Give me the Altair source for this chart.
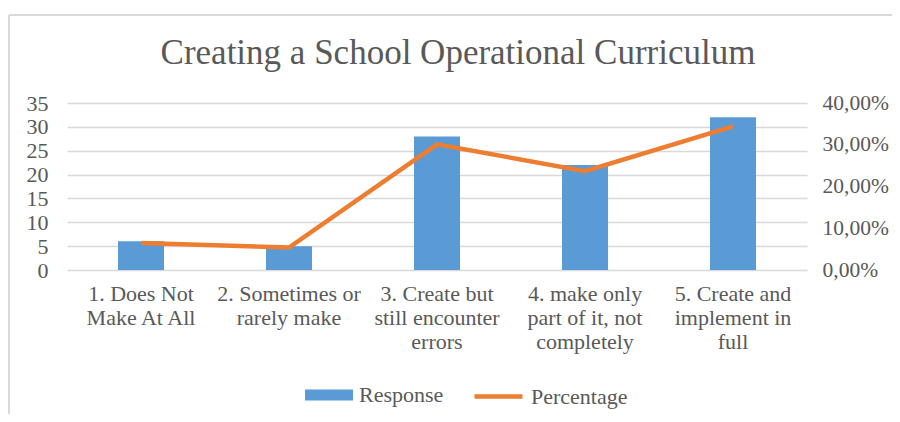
import altair as alt
import pandas as pd

categories = [
    "1. Does Not\nMake At All",
    "2. Sometimes or\nrarely make",
    "3. Create but\nstill encounter\nerrors",
    "4. make only\npart of it, not\ncompletely",
    "5. Create and\nimplement in\nfull",
]
responses = [6, 5, 28, 22, 32]
percentages = [0.0645, 0.0538, 0.3011, 0.2366, 0.3441]

df = pd.DataFrame({"category": categories, "response": responses, "pct": percentages})

FONT = "Liberation Serif"
TEXT = "#595959"
GRID = "#D9D9D9"
FS = 22

x_enc = alt.X(
    "category:N",
    sort=categories,
    scale=alt.Scale(paddingInner=0.689, paddingOuter=0.3445),
    axis=alt.Axis(
        title=None, labelAngle=0, domain=False, ticks=False, tickSize=0,
        labelExpr="split(datum.label, '\\n')", labelLineHeight=24,
        labelPadding=13, labelLimit=0, grid=False,
        labelFont=FONT, labelFontSize=FS, labelColor=TEXT,
    ),
)

bars = alt.Chart(df).transform_calculate(series="'Response'").mark_bar(color="#5B9BD5").encode(
    x=x_enc,
    y=alt.Y(
        "response:Q",
        scale=alt.Scale(domain=[0, 35], nice=False),
        axis=alt.Axis(title=None, values=[0, 5, 10, 15, 20, 25, 30, 35], domain=False,
                      ticks=False, tickSize=0, labelPadding=19, grid=True,
                      gridColor=GRID, gridWidth=1.5,
                      labelFont=FONT, labelFontSize=FS, labelColor=TEXT),
    ),
    color=alt.Color(
        "series:N",
        scale=alt.Scale(domain=["Response"], range=["#5B9BD5"]),
        legend=alt.Legend(
            title=None, orient="none", legendX=238, legendY=268,
            symbolType="M-1,-0.23L1,-0.23L1,0.23L-1,0.23Z", symbolSize=2304,
            symbolStrokeWidth=0, symbolOpacity=1, labelOffset=6, padding=0,
            labelFont=FONT, labelFontSize=FS, labelColor=TEXT,
        ),
    ),
)

line = alt.Chart(df).transform_calculate(series="'Percentage'").mark_line(strokeWidth=4.5).encode(
    x=x_enc,
    y=alt.Y(
        "pct:Q",
        scale=alt.Scale(domain=[0, 0.4], nice=False),
        axis=alt.Axis(title=None, orient="right", values=[0, 0.1, 0.2, 0.3, 0.4],
                      labelExpr="replace(format(datum.value, '.2%'), '.', ',')",
                      domain=False, ticks=False, tickSize=0, labelPadding=15, grid=False,
                      labelFont=FONT, labelFontSize=21.5, labelColor=TEXT),
    ),
    color=alt.Color(
        "series:N",
        scale=alt.Scale(domain=["Percentage"], range=["#ED7D31"]),
        legend=alt.Legend(
            title=None, orient="none", legendX=405, legendY=267,
            symbolType="stroke", symbolSize=2304, symbolStrokeWidth=4.5,
            labelOffset=6, padding=0,
            labelFont=FONT, labelFontSize=FS, labelColor=TEXT,
        ),
    ),
)

border = alt.Chart(df).mark_rule(color=GRID, strokeWidth=2).encode(
    x=alt.value(-58), x2=alt.value(825), y=alt.value(-88)
)
border_left = alt.Chart(df).mark_rule(color=GRID, strokeWidth=2).encode(
    x=alt.value(-58), y=alt.value(-88), y2=alt.value(311)
)

chart = (
    alt.layer(border, border_left, bars, line)
    .resolve_scale(y="independent", color="independent")
    .properties(
        width=740,
        height=167,
        autosize=alt.AutoSizeParams(type="none"),
        padding={"left": 59, "top": 95, "right": 85, "bottom": 144},
        title=alt.TitleParams(
            "Creating a School Operational Curriculum",
            font=FONT, fontSize=35, fontWeight="normal", color=TEXT,
            anchor="middle", dx=21, offset=-57,
        ),
    )
    .configure_view(stroke=None)
)

chart.save("out.html", embed_options={"renderer": "svg", "actions": False})
